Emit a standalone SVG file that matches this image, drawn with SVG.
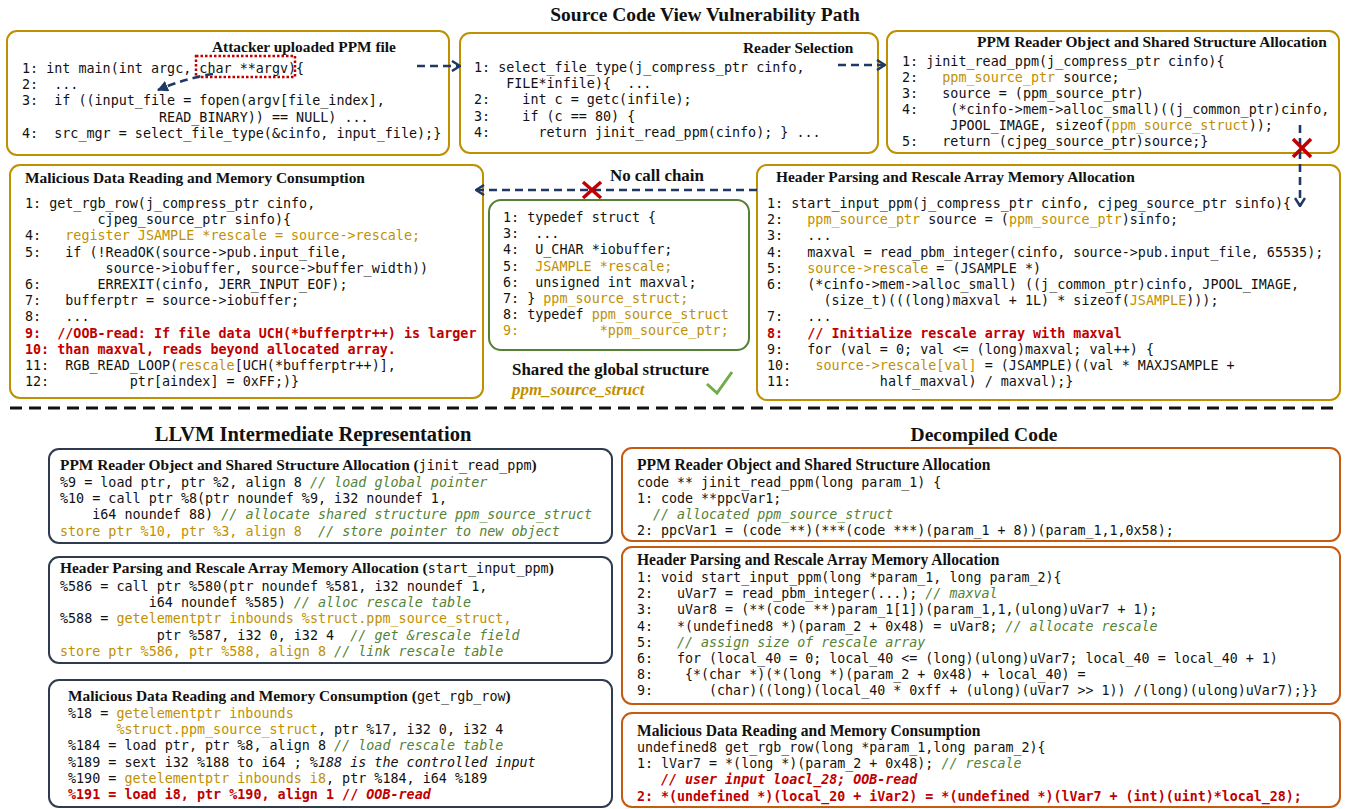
<svg xmlns="http://www.w3.org/2000/svg" width="1348" height="809" viewBox="0 0 1348 809" xml:space="preserve">
<style>
text{white-space:pre}
.code{font-family:"DejaVu Sans Mono",monospace;font-size:13.4px;fill:#111}
.dc{font-family:"DejaVu Sans Mono",monospace;font-size:14.8px;fill:#111}
.hd{font-family:"Liberation Serif",serif;font-weight:bold;font-size:15.4px;fill:#111}
.dhd{font-family:"Liberation Serif",serif;font-weight:bold;font-size:17.3px;fill:#111}
.ttl{font-family:"Liberation Serif",serif;font-weight:bold;font-size:19.5px;fill:#111}
.lbl{font-family:"Liberation Serif",serif;font-weight:bold;font-size:16.9px;fill:#111}
.g{fill:#BF9000}
.cm{fill:#548235;font-style:italic}
.r{fill:#C00000;font-weight:bold}
.it{font-style:italic}
.mono{font-family:"DejaVu Sans Mono",monospace;font-weight:normal;font-size:13.4px}
.boxSrc{fill:#fff;stroke:#BF9000;stroke-width:2}
.boxStruct{fill:#fff;stroke:#548235;stroke-width:2}
.boxIr{fill:#fff;stroke:#2F3B4F;stroke-width:2}
.boxDec{fill:#fff;stroke:#C55A11;stroke-width:2}
.flow{fill:none;stroke:#1F3864;stroke-width:2.6;stroke-dasharray:8 5}
.cross{stroke:#C00000;stroke-width:3.5;stroke-linecap:butt}
</style>
<defs>
<marker id="chev" viewBox="0 0 10 12" refX="9" refY="6" markerWidth="10" markerHeight="12" markerUnits="userSpaceOnUse" orient="auto">
<path d="M1,1 L9,6 L1,11" fill="none" stroke="#1F3864" stroke-width="2.5"/>
</marker>
<marker id="tri" viewBox="0 0 10 10" refX="9" refY="5" markerWidth="11" markerHeight="11" markerUnits="userSpaceOnUse" orient="auto">
<path d="M0,0 L10,5 L0,10 Z" fill="#1F3864"/>
</marker>
</defs>
<rect width="1348" height="809" fill="#fff"/>

<text class="ttl" x="705" y="21" text-anchor="middle">Source Code View Vulnerability Path</text>

<!-- main(): entry point reading the input file -->
<g id="node-main">
<rect class="boxSrc" x="7" y="31" width="442" height="124" rx="10"/>
<text class="hd" x="212" y="52">Attacker uploaded PPM file</text>
<rect x="196" y="56" width="99" height="21" fill="none" stroke="#C00000" stroke-width="2.5" stroke-dasharray="2.5 2"/>
<text class="code" x="22" y="73">1: int main(int argc, char **argv){</text>
<text class="code" x="22" y="89.2">2:  ...</text>
<text class="code" x="22" y="105.4">3:  if ((input_file = fopen(argv[file_index],</text>
<text class="code" x="22" y="121.6">                 READ_BINARY)) == NULL) ...</text>
<text class="code" x="22" y="137.8">4:  src_mgr = select_file_type(&amp;cinfo, input_file);}</text>
</g>

<!-- select_file_type(): reader selection -->
<g id="node-select">
<rect class="boxSrc" x="460" y="33" width="418" height="120" rx="10"/>
<text class="hd" x="743" y="53">Reader Selection</text>
<text class="code" x="474" y="72">1: select_file_type(j_compress_ptr cinfo,</text>
<text class="code" x="474" y="88.2">    FILE*infile){  ...</text>
<text class="code" x="474" y="104.4">2:    int c = getc(infile);</text>
<text class="code" x="474" y="120.6">3:    if (c == 80) {</text>
<text class="code" x="474" y="136.8">4:      return jinit_read_ppm(cinfo); } ...</text>
</g>

<!-- jinit_read_ppm(): reader object allocation -->
<g id="node-jinit">
<rect class="boxSrc" x="887" y="31" width="452" height="122" rx="10"/>
<text class="hd" x="977" y="47">PPM Reader Object and Shared Structure Allocation</text>
<text class="code" x="902" y="66">1: jinit_read_ppm(j_compress_ptr cinfo){</text>
<text class="code" x="902" y="82">2:   <tspan class="g">ppm_source_ptr</tspan> source;</text>
<text class="code" x="902" y="98">3:   source = (ppm_source_ptr)</text>
<text class="code" x="902" y="114">4:    (*cinfo-&gt;mem-&gt;alloc_small)((j_common_ptr)cinfo,</text>
<text class="code" x="902" y="130">      JPOOL_IMAGE, sizeof(<tspan class="g">ppm_source_struct</tspan>));</text>
<text class="code" x="902" y="146">5:   return (cjpeg_source_ptr)source;}</text>
</g>

<!-- get_rgb_row(): reads pixel data through the rescale table -->
<g id="node-getrgb">
<rect class="boxSrc" x="10" y="165" width="473" height="233" rx="10"/>
<text class="hd" x="25" y="183">Malicious Data Reading and Memory Consumption</text>
<text class="code" x="25" y="208">1: get_rgb_row(j_compress_ptr cinfo,</text>
<text class="code" x="25" y="224.2">         cjpeg_source_ptr sinfo){</text>
<text class="code" x="25" y="240.4">4:   <tspan class="g">register JSAMPLE *rescale = source-&gt;rescale;</tspan></text>
<text class="code" x="25" y="256.6">5:   if (!ReadOK(source-&gt;pub.input_file,</text>
<text class="code" x="25" y="272.8">          source-&gt;iobuffer, source-&gt;buffer_width))</text>
<text class="code" x="25" y="289">6:       ERREXIT(cinfo, JERR_INPUT_EOF);</text>
<text class="code" x="25" y="305.2">7:   bufferptr = source-&gt;iobuffer;</text>
<text class="code" x="25" y="321.4">8:   ...</text>
<text class="code r" x="25" y="337.6">9:  //OOB-read: If file data UCH(*bufferptr++) is larger</text>
<text class="code r" x="25" y="353.8">10: than maxval, reads beyond allocated array.</text>
<text class="code" x="25" y="370">11:  RGB_READ_LOOP(<tspan class="g">rescale</tspan>[UCH(*bufferptr++)],</text>
<text class="code" x="25" y="386.2">12:          ptr[aindex] = 0xFF;)}</text>
</g>

<!-- shared ppm_source_struct definition -->
<g id="node-struct">
<rect class="boxStruct" x="489" y="200" width="260" height="150" rx="12"/>
<text class="code" x="503" y="222">1: typedef struct {</text>
<text class="code" x="503" y="238.2">3:  ...</text>
<text class="code" x="503" y="254.4">4:  U_CHAR *iobuffer;</text>
<text class="code" x="503" y="270.6">5:  <tspan class="g">JSAMPLE *rescale;</tspan></text>
<text class="code" x="503" y="286.8">6:  unsigned int maxval;</text>
<text class="code" x="503" y="303">7: } <tspan class="g">ppm_source_struct;</tspan></text>
<text class="code" x="503" y="319.2">8: typedef <tspan class="g">ppm_source_struct</tspan></text>
<text class="code g" x="503" y="335.4">9:          *ppm_source_ptr;</text>
</g>

<g id="note-shared">
<text class="lbl" x="512" y="375">Shared the global structure</text>
<text class="lbl g" x="512" y="395" font-style="italic">ppm_source_struct</text>
<polyline points="707,384 717,393 732,372" fill="none" stroke="#70AD47" stroke-width="3"/>
</g>

<!-- start_input_ppm(): header parsing and rescale allocation -->
<g id="node-startinput">
<rect class="boxSrc" x="757" y="165" width="583" height="235" rx="10"/>
<text class="hd" x="776" y="182">Header Parsing and Rescale Array Memory Allocation</text>
<text class="code" x="767" y="208">1: start_input_ppm(j_compress_ptr cinfo, cjpeg_source_ptr sinfo){</text>
<text class="code" x="767" y="224.2">2:   <tspan class="g">ppm_source_ptr</tspan> source = (<tspan class="g">ppm_source_ptr</tspan>)sinfo;</text>
<text class="code" x="767" y="240.4">3:   ...</text>
<text class="code" x="767" y="256.6">4:   maxval = read_pbm_integer(cinfo, source-&gt;pub.input_file, 65535);</text>
<text class="code" x="767" y="272.8">5:   <tspan class="g">source-&gt;rescale</tspan> = (JSAMPLE *)</text>
<text class="code" x="767" y="289">6:   (*cinfo-&gt;mem-&gt;alloc_small) ((j_common_ptr)cinfo, JPOOL_IMAGE,</text>
<text class="code" x="767" y="305.2">       (size_t)(((long)maxval + 1L) * sizeof(<tspan class="g">JSAMPLE</tspan>)));</text>
<text class="code" x="767" y="321.4">7:   ...</text>
<text class="code r" x="767" y="337.6">8:   // Initialize rescale array with maxval</text>
<text class="code" x="767" y="353.8">9:   for (val = 0; val &lt;= (long)maxval; val++) {</text>
<text class="code" x="767" y="370">10:   <tspan class="g">source-&gt;rescale[val]</tspan> = (JSAMPLE)((val * MAXJSAMPLE +</text>
<text class="code" x="767" y="386.2">11:           half_maxval) / maxval);}</text>
</g>

<!-- call-flow connectors -->
<g id="connectors">
<path class="flow" d="M417,66 L460,66" marker-end="url(#chev)"/>
<path class="flow" d="M838,65 L885,65" marker-end="url(#chev)"/>
<path class="flow" d="M213,74 Q186,78 158,90" marker-end="url(#tri)"/>
<path class="flow" d="M1300,125 L1300,206" marker-end="url(#chev)"/>
<path class="flow" d="M757,190 L476,190" marker-end="url(#chev)"/>
<line class="cross" x1="1293" y1="139" x2="1311" y2="157"/>
<line class="cross" x1="1311" y1="139" x2="1293" y2="157"/>
<line class="cross" x1="583" y1="182" x2="601" y2="198"/>
<line class="cross" x1="601" y1="182" x2="583" y2="198"/>
<text class="lbl" x="610" y="181">No call chain</text>
</g>

<line x1="10" y1="408" x2="1340" y2="408" stroke="#111" stroke-width="3" stroke-dasharray="12 7"/>

<text class="ttl" x="313" y="441" text-anchor="middle" style="font-size:20.5px">LLVM Intermediate Representation</text>
<text class="ttl" x="984" y="441" text-anchor="middle">Decompiled Code</text>

<!-- LLVM IR views -->
<g id="ir-jinit">
<rect class="boxIr" x="49" y="449" width="563" height="94" rx="10"/>
<text class="hd" x="60" y="470">PPM Reader Object and Shared Structure Allocation (<tspan class="mono">jinit_read_ppm</tspan>)</text>
<text class="code" x="60" y="487">%9 = load ptr, ptr %2, align 8 <tspan class="cm">// load global pointer</tspan></text>
<text class="code" x="60" y="503.2">%10 = call ptr %8(ptr noundef %9, i32 noundef 1,</text>
<text class="code" x="60" y="519.4">    i64 noundef 88) <tspan class="cm">// allocate shared structure ppm_source_struct</tspan></text>
<text class="code" x="60" y="535.6"><tspan class="g">store ptr %10, ptr %3, align 8  </tspan><tspan class="cm">// store pointer to new object</tspan></text>
</g>

<g id="ir-startinput">
<rect class="boxIr" x="49" y="557" width="563" height="106" rx="10"/>
<text class="hd" x="60" y="573">Header Parsing and Rescale Array Memory Allocation (<tspan class="mono">start_input_ppm</tspan>)</text>
<text class="code" x="60" y="591">%586 = call ptr %580(ptr noundef %581, i32 noundef 1,</text>
<text class="code" x="60" y="607.2">           i64 noundef %585) <tspan class="cm">// alloc rescale table</tspan></text>
<text class="code" x="60" y="623.4">%588 = <tspan class="g">getelementptr inbounds %struct.ppm_source_struct,</tspan></text>
<text class="code" x="60" y="639.6">            ptr %587, i32 0, i32 4  <tspan class="cm">// get &amp;rescale field</tspan></text>
<text class="code" x="60" y="655.8"><tspan class="g">store ptr %586, ptr %588, align 8 </tspan><tspan class="cm">// link rescale table</tspan></text>
</g>

<g id="ir-getrgb">
<rect class="boxIr" x="49" y="680" width="563" height="127" rx="10"/>
<text class="hd" x="68" y="701">Malicious Data Reading and Memory Consumption (<tspan class="mono">get_rgb_row</tspan>)</text>
<text class="code" x="68" y="718">%18 = <tspan class="g">getelementptr inbounds</tspan></text>
<text class="code" x="68" y="734.2">      <tspan class="g">%struct.ppm_source_struct</tspan>, ptr %17, i32 0, i32 4</text>
<text class="code" x="68" y="750.4">%184 = load ptr, ptr %8, align 8 <tspan class="cm">// load rescale table</tspan></text>
<text class="code" x="68" y="766.6">%189 = sext i32 %188 to i64 ; <tspan class="it">%188 is the controlled input</tspan></text>
<text class="code" x="68" y="782.8">%190 = <tspan class="g">getelementptr inbounds i8</tspan>, ptr %184, i64 %189</text>
<text class="code r" x="68" y="799">%191 = load i8, ptr %190, align 1 // <tspan class="it">OOB-read</tspan></text>
</g>

<!-- decompiled views: condensed monospace, scaled horizontally -->
<g id="dec-jinit">
<rect class="boxDec" x="622" y="448" width="718" height="93" rx="10"/>
<g transform="translate(637,0) scale(0.9,1)">
<text class="dhd" x="0" y="470">PPM Reader Object and Shared Structure Allocation</text>
<text class="dc" x="0" y="487">code ** jinit_read_ppm(long param_1) {</text>
<text class="dc" x="0" y="503">1: code **ppcVar1;</text>
<text class="dc cm" x="0" y="519">  // allocated ppm_source_struct</text>
<text class="dc" x="0" y="535">2: ppcVar1 = (code **)(***(code ***)(param_1 + 8))(param_1,1,0x58);</text>
</g>
</g>

<g id="dec-startinput">
<rect class="boxDec" x="622" y="547" width="718" height="157" rx="10"/>
<g transform="translate(637,0) scale(0.9,1)">
<text class="dhd" x="0" y="565">Header Parsing and Rescale Array Memory Allocation</text>
<text class="dc" x="0" y="582">1: void start_input_ppm(long *param_1, long param_2){</text>
<text class="dc" x="0" y="598.2">2:   uVar7 = read_pbm_integer(...); <tspan class="cm">// maxval</tspan></text>
<text class="dc" x="0" y="614.4">3:   uVar8 = (**(code **)param_1[1])(param_1,1,(ulong)uVar7 + 1);</text>
<text class="dc" x="0" y="630.6">4:   *(undefined8 *)(param_2 + 0x48) = uVar8; <tspan class="cm">// allocate rescale</tspan></text>
<text class="dc" x="0" y="646.8">5:   <tspan class="cm">// assign size of rescale array</tspan></text>
<text class="dc" x="0" y="663">6:   for (local_40 = 0; local_40 &lt;= (long)(ulong)uVar7; local_40 = local_40 + 1)</text>
<text class="dc" x="0" y="679.2">8:    {*(char *)(*(long *)(param_2 + 0x48) + local_40) =</text>
<text class="dc" x="0" y="695.4">9:       (char)((long)(local_40 * 0xff + (ulong)(uVar7 &gt;&gt; 1)) /(long)(ulong)uVar7);}}</text>
</g>
</g>

<g id="dec-getrgb">
<rect class="boxDec" x="622" y="713" width="718" height="94" rx="10"/>
<g transform="translate(637,0) scale(0.9,1)">
<text class="dhd" x="0" y="736">Malicious Data Reading and Memory Consumption</text>
<text class="dc" x="0" y="752">undefined8 get_rgb_row(long *param_1,long param_2){</text>
<text class="dc" x="0" y="768.2">1: lVar7 = *(long *)(param_2 + 0x48); <tspan class="cm">// rescale</tspan></text>
<text class="dc r it" x="0" y="784.4">   // user input loacl_28; OOB-read</text>
<text class="dc r" x="0" y="800.6">2: *(undefined *)(local_20 + iVar2) = *(undefined *)(lVar7 + (int)(uint)*local_28);</text>
</g>
</g>
</svg>
